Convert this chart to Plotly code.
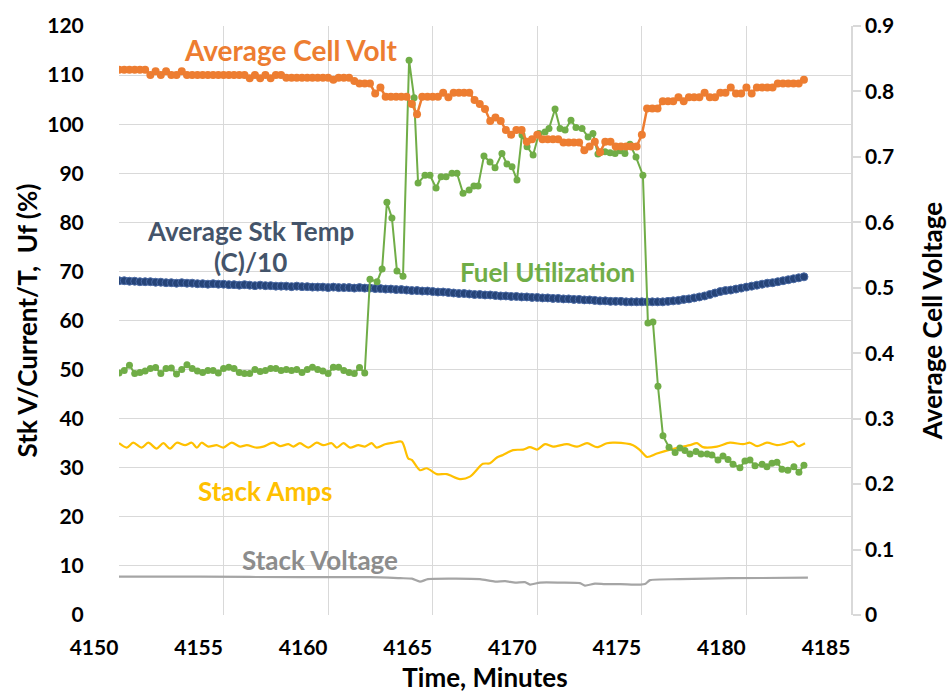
import numpy as np
import plotly.graph_objects as go

# ---------------- data ----------------
# regular sampling grid (minutes) for cell voltage and stack temperature
n_grid = 132
time_grid = np.round(4150 + 0.25 * np.arange(n_grid), 2)

cell_volt = [
    0.833, 0.833, 0.833, 0.833, 0.833, 0.833, 0.825, 0.831, 0.825, 0.831,
    0.825, 0.825, 0.831, 0.825, 0.825, 0.825, 0.825, 0.825, 0.825, 0.825,
    0.825, 0.825, 0.825, 0.825, 0.825, 0.820, 0.825, 0.820, 0.825, 0.820,
    0.825, 0.825, 0.821, 0.821, 0.821, 0.821, 0.821, 0.821, 0.821, 0.821,
    0.821, 0.818, 0.821, 0.821, 0.821, 0.816, 0.812, 0.812, 0.812, 0.797,
    0.806, 0.792, 0.792, 0.792, 0.792, 0.792, 0.781, 0.765, 0.792, 0.792,
    0.792, 0.792, 0.798, 0.791, 0.798, 0.798, 0.798, 0.798, 0.787, 0.781,
    0.773, 0.755, 0.760, 0.755, 0.741, 0.734, 0.741, 0.741, 0.723, 0.727,
    0.734, 0.727, 0.727, 0.727, 0.727, 0.722, 0.722, 0.722, 0.722, 0.710,
    0.716, 0.723, 0.707, 0.723, 0.723, 0.716, 0.716, 0.716, 0.716, 0.716,
    0.734, 0.774, 0.774, 0.774, 0.785, 0.785, 0.785, 0.791, 0.785, 0.791,
    0.791, 0.791, 0.798, 0.791, 0.791, 0.798, 0.798, 0.806, 0.797, 0.797,
    0.806, 0.797, 0.806, 0.806, 0.806, 0.806, 0.812, 0.812, 0.812, 0.812,
    0.812, 0.818,
]

stk_temp = [
    68.1, 68.1, 68.0, 68.0, 67.9, 67.9, 67.9, 67.8, 67.8, 67.7,
    67.7, 67.6, 67.7, 67.6, 67.6, 67.5, 67.5, 67.4, 67.5, 67.4,
    67.4, 67.3, 67.3, 67.2, 67.3, 67.2, 67.1, 67.2, 67.1, 67.1,
    67.0, 67.0, 67.0, 66.9, 67.0, 66.9, 66.9, 66.8, 66.8, 66.8,
    66.7, 66.8, 66.7, 66.7, 66.7, 66.6, 66.7, 66.6, 66.6, 66.5,
    66.5, 66.4, 66.4, 66.3, 66.3, 66.2, 66.1, 66.1, 66.0, 66.0,
    65.9, 65.8, 65.8, 65.7, 65.6, 65.5, 65.5, 65.4, 65.3, 65.3,
    65.2, 65.2, 65.1, 65.0, 65.0, 64.9, 64.9, 64.8, 64.8, 64.7,
    64.7, 64.6, 64.6, 64.5, 64.5, 64.4, 64.4, 64.3, 64.3, 64.2,
    64.2, 64.1, 64.0, 64.0, 63.9, 63.9, 63.9, 63.8, 63.8, 63.8,
    63.8, 63.8, 63.8, 63.8, 63.8, 63.9, 64.0, 64.1, 64.3, 64.4,
    64.6, 64.8, 65.0, 65.3, 65.6, 65.9, 66.1, 66.2, 66.4, 66.6,
    66.8, 67.0, 67.2, 67.4, 67.6, 67.7, 67.9, 68.1, 68.3, 68.5,
    68.7, 68.9,
]

fuel_time = [
    4150.0, 4150.25, 4150.5, 4150.75, 4151.0, 4151.25, 4151.5, 4151.75, 4152.0, 4152.25,
    4152.5, 4152.75, 4153.0, 4153.25, 4153.5, 4153.75, 4154.0, 4154.25, 4154.5, 4154.75,
    4155.0, 4155.25, 4155.5, 4155.75, 4156.0, 4156.25, 4156.5, 4156.75, 4157.0, 4157.25,
    4157.5, 4157.75, 4158.0, 4158.25, 4158.5, 4158.75, 4159.0, 4159.25, 4159.5, 4159.75,
    4160.0, 4160.25, 4160.5, 4160.75, 4161.0, 4161.25, 4161.5, 4161.75,
    4162.0, 4162.34, 4162.58, 4162.81, 4163.05, 4163.29, 4163.58, 4163.87, 4164.11,
    4164.3, 4164.63, 4164.87, 4165.16, 4165.4, 4165.64, 4165.92, 4166.16, 4166.45,
    4166.74, 4166.97, 4167.17, 4167.45, 4167.74, 4167.98, 4168.31, 4168.55, 4168.79,
    4169.03, 4169.27, 4169.51, 4169.8, 4170.08, 4170.37, 4170.56, 4170.85, 4171.09,
    4171.33, 4171.61, 4171.85, 4172.14, 4172.43, 4172.66, 4172.9, 4173.24, 4173.48,
    4173.72, 4173.96, 4174.19, 4174.43, 4174.72, 4175.05, 4175.29, 4175.53, 4175.77,
    4176.01, 4176.3, 4176.59, 4176.82, 4177.06, 4177.3, 4177.59, 4177.83, 4178.12,
    4178.35, 4178.64, 4178.88, 4179.12, 4179.36, 4179.69, 4179.93, 4180.17, 4180.41,
    4180.75, 4180.98, 4181.22, 4181.46, 4181.7, 4181.98, 4182.27, 4182.51, 4182.75,
]
fuel_util = [
    49.3, 49.8, 50.9, 49.2, 49.4, 49.7, 50.2, 50.4, 49.2, 50.2,
    50.3, 49.1, 50.0, 51.0, 50.2, 49.7, 49.4, 49.8, 49.8, 49.3,
    50.2, 50.5, 50.2, 49.4, 49.2, 49.2, 50.0, 49.6, 49.8, 50.2,
    50.2, 49.8, 50.0, 49.8, 50.0, 49.4, 50.0, 50.5, 50.0, 49.7,
    49.2, 50.5, 50.5, 49.8, 49.4, 49.2, 50.4, 49.3,
    68.4, 67.9, 70.5, 84.1, 80.9, 70.1, 69.0, 113.0, 105.4,
    88.0, 89.6, 89.6, 87.0, 89.3, 89.3, 90.0, 90.0, 85.9,
    86.6, 87.4, 87.4, 93.5, 92.3, 91.1, 94.0, 91.9, 91.3,
    88.6, 97.8, 95.4, 93.7, 98.1, 98.4, 99.1, 103.1, 99.1,
    98.8, 100.8, 99.3, 99.1, 97.4, 98.1, 93.9, 94.4, 94.2,
    94.0, 94.6, 94.0, 95.9, 93.3, 89.6, 59.5, 59.7, 46.6,
    36.5, 34.2, 33.1, 34.0, 33.5, 32.8, 33.3, 32.8, 32.8,
    32.6, 31.6, 32.4, 31.7, 30.7, 30.0, 31.4, 31.6, 30.4,
    30.7, 30.2, 30.9, 31.1, 29.7, 29.5, 30.2, 29.1, 30.5,
]

amps_time = [
    4150.0, 4150.37, 4150.68, 4151.08, 4151.4, 4151.8, 4152.12, 4152.44, 4152.76, 4153.16,
    4153.48, 4153.72, 4153.95, 4154.27, 4154.67, 4154.99, 4155.39, 4155.79, 4156.11, 4156.58,
    4156.9, 4157.38, 4157.7, 4158.1, 4158.34, 4158.65, 4159.05, 4159.45, 4159.77, 4160.17,
    4160.41, 4160.73, 4161.05, 4161.44, 4161.76, 4162.08, 4162.32, 4162.72, 4163.12, 4163.52,
    4163.83, 4164.0, 4164.39, 4164.71, 4165.19, 4165.67, 4166.3, 4166.78, 4167.4, 4167.74,
    4168.07, 4168.36, 4168.84, 4169.32, 4169.65, 4169.99, 4170.37, 4170.75, 4171.42, 4171.9,
    4172.38, 4172.86, 4173.33, 4173.72, 4174.58, 4174.91, 4175.25, 4175.72, 4176.35, 4176.97,
    4177.3, 4177.64, 4177.92, 4178.59, 4179.21, 4179.84, 4180.17, 4180.51, 4180.98, 4181.46,
    4181.75, 4182.23, 4182.47, 4182.8,
]
stack_amps = [
    35.0, 34.1, 35.1, 34.1, 35.1, 33.9, 35.0, 33.9, 35.1, 34.6,
    35.1, 34.1, 35.1, 34.3, 34.6, 34.1, 35.1, 34.3, 34.6, 34.1,
    34.3, 35.1, 34.4, 34.8, 34.3, 35.0, 34.1, 35.1, 34.6, 35.0,
    34.1, 35.0, 34.1, 34.6, 34.3, 35.0, 34.1, 34.8, 35.1, 35.3,
    31.9, 31.6, 29.5, 29.9, 28.7, 28.7, 27.7, 28.2, 30.8, 30.9,
    32.1, 32.6, 33.6, 33.7, 34.2, 33.7, 34.8, 34.3, 34.8, 34.3,
    35.0, 34.2, 35.0, 35.1, 34.6, 33.6, 32.2, 32.9, 33.7, 34.3,
    34.6, 35.0, 34.2, 34.3, 35.1, 34.8, 35.1, 34.4, 35.1, 34.6,
    34.8, 35.3, 34.4, 35.0,
]

volt_time = [
    4150.0, 4153.87, 4158.65, 4162.0, 4163.44, 4164.01, 4164.39, 4164.77, 4165.83, 4167.26,
    4167.98, 4168.46, 4168.94, 4169.41, 4169.65, 4170.13, 4171.09, 4172.04, 4172.28, 4172.76,
    4173.24, 4173.96, 4174.91, 4175.15, 4175.39, 4176.82, 4179.21, 4182.94,
]
stack_volt = [
    7.8, 7.8, 7.7, 7.7, 7.5, 7.4, 6.8, 7.3, 7.4, 7.3,
    6.8, 6.9, 6.6, 6.7, 6.2, 6.6, 6.6, 6.5, 6.0, 6.4,
    6.3, 6.3, 6.2, 6.3, 7.1, 7.3, 7.5, 7.6,
]

x_ticks = [4150, 4155, 4160, 4165, 4170, 4175, 4180, 4185]

# ---------------- styling ----------------
FONT = "Lato"
C_ORANGE = "#ED7D31"
C_BLUE = "#264478"
C_GREEN = "#70AD47"
C_YELLOW = "#FFC000"
C_GRAY = "#A5A5A5"
C_LABEL_BLUE = "#44546A"
GRID = "#D9D9D9"
CLEAR = "rgba(0,0,0,0)"

fig = go.Figure()

fig.add_trace(go.Scatter(
    x=volt_time, y=stack_volt, mode="lines", name="Stack Voltage",
    line=dict(color=C_GRAY, width=2.2, shape="spline", smoothing=0.6)))

fig.add_trace(go.Scatter(
    x=amps_time, y=stack_amps, mode="lines", name="Stack Amps",
    line=dict(color=C_YELLOW, width=2.2, shape="spline", smoothing=0.8)))

fig.add_trace(go.Scatter(
    x=time_grid, y=stk_temp, mode="lines+markers", name="Average Stk Temp (C)/10",
    line=dict(color=C_BLUE, width=2),
    marker=dict(color=C_BLUE, size=8, line=dict(color="#4A6AA5", width=1))))

fig.add_trace(go.Scatter(
    x=fuel_time, y=fuel_util, mode="lines+markers", name="Fuel Utilization",
    line=dict(color=C_GREEN, width=2),
    marker=dict(color=C_GREEN, size=7)))

fig.add_trace(go.Scatter(
    x=time_grid, y=cell_volt, mode="lines+markers", name="Average Cell Volt",
    yaxis="y2",
    line=dict(color=C_ORANGE, width=2.5),
    marker=dict(color=C_ORANGE, size=8)))

tickfont = dict(family=FONT, size=21, color="#000000", weight="bold")
titlefont = dict(family=FONT, size=26, color="#000000", weight="bold")

fig.update_layout(
    width=951, height=693,
    margin=dict(l=119, r=100, t=26, b=78, autoexpand=False),
    paper_bgcolor="white", plot_bgcolor="white",
    showlegend=False,
    xaxis=dict(
        range=[4150, 4185], tickmode="array", tickvals=x_ticks,
        showgrid=True, gridcolor=GRID, gridwidth=1.3,
        zeroline=False, showline=False,
        ticks="outside", ticklen=14, tickcolor=CLEAR,
        tickfont=tickfont, ticklabelshift=-25,
        title=dict(text="Time, Minutes", font=titlefont, standoff=13),
    ),
    yaxis=dict(
        range=[0, 120], dtick=10, tick0=0,
        showgrid=True, gridcolor=GRID, gridwidth=1.3,
        zeroline=False, showline=False,
        ticks="outside", ticklen=30, tickcolor=CLEAR,
        tickfont=tickfont,
        title=dict(text="Stk V/Current/T,  Uf (%)", font=titlefont, standoff=2),
    ),
    yaxis2=dict(
        range=[0, 0.9], dtick=0.1, tick0=0, overlaying="y", side="right",
        showgrid=False, zeroline=False,
        showline=True, linecolor=GRID, linewidth=1.5,
        ticks="outside", ticklen=8, tickcolor=GRID, tickwidth=1.5,
        tickfont=tickfont,
        title=dict(text="Average Cell Voltage", font=titlefont, standoff=30),
    ),
)

ann_common = dict(xref="x", yref="y", showarrow=False, xanchor="center", yanchor="middle")
fig.add_annotation(x=4158.2, y=115.1, text="<b>Average Cell Volt</b>",
                   font=dict(family=FONT, size=28, color=C_ORANGE), **ann_common)
fig.add_annotation(x=4156.3, y=78.2, text="<b>Average Stk Temp</b>",
                   font=dict(family=FONT, size=26, color=C_LABEL_BLUE), **ann_common)
fig.add_annotation(x=4156.3, y=71.9, text="<b>(C)/10</b>",
                   font=dict(family=FONT, size=26, color=C_LABEL_BLUE), **ann_common)
fig.add_annotation(x=4170.5, y=69.9, text="<b>Fuel Utilization</b>",
                   font=dict(family=FONT, size=26, color=C_GREEN), **ann_common)
fig.add_annotation(x=4157.0, y=25.3, text="<b>Stack Amps</b>",
                   font=dict(family=FONT, size=26, color=C_YELLOW), **ann_common)
fig.add_annotation(x=4159.6, y=11.2, text="<b>Stack Voltage</b>",
                   font=dict(family=FONT, size=26, color="#8C8C8C"), **ann_common)

fig.write_html("out.html",
               config={"displayModeBar": False},
               post_script="document.body.style.margin='0px';document.body.style.padding='0px';")
